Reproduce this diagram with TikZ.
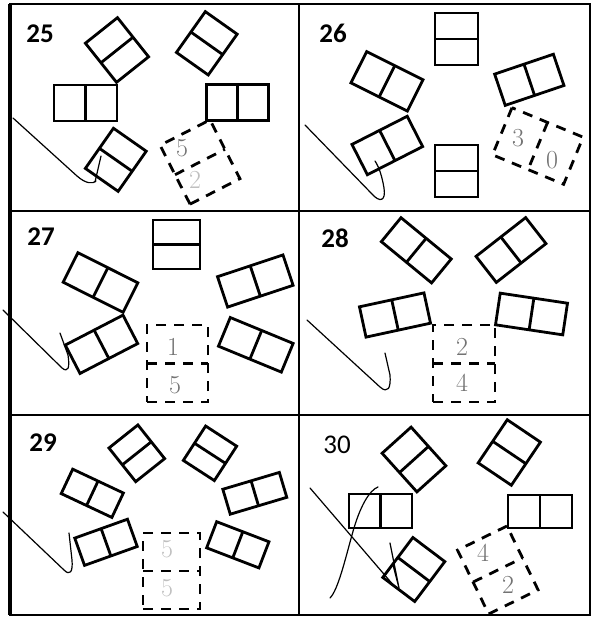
\documentclass[tikz,border=0pt]{standalone}
\usepackage{fontspec}
\newfontfamily\labelfont{Carlito}
\tikzset{
  pics/domino/.style 2 args={code={
    \draw[line width=2.8pt] (-#1/2,-#2/2) rectangle (#1/2,#2/2);
    \draw[line width=2.8pt] (0,-#2/2) -- (0,#2/2);
  }},
}
\begin{document}
\begin{tikzpicture}[x=1pt, y=-1pt,
    frame/.style={line width=1.8pt},
    dashbox/.style={dash pattern=on 10pt off 8pt},
    celllabel/.style={font=\labelfont\bfseries\fontsize{27}{27}\selectfont, inner sep=0pt},
    handnum/.style={text=black!55, font=\fontsize{26}{26}\selectfont, inner sep=0pt},
    scribble/.style={line width=1.2pt, line cap=round, line join=round}]
    \fill[white] (0,0) rectangle (595,622);
    \useasboundingbox (0,0) rectangle (595,622);

    % frame and cells
    \draw[frame] (10,4) rectangle (590,615);
    \draw[line width=4pt] (10,4) -- (10,615);
    \draw[frame] (299,4) -- (299,615);
    \draw[frame] (10,211) -- (590,211);
    \draw[frame] (10,415) -- (590,415);

    % cell labels
    \node[celllabel] (lbl25) at (40,34) {25};
    \node[celllabel] (lbl26) at (333,33) {26};
    \node[celllabel] (lbl27) at (41,237) {27};
    \node[celllabel] (lbl28) at (335,238) {28};
    \node[celllabel] (lbl29) at (43,443) {29};
    \node[celllabel, font=\labelfont\fontsize{27}{27}\selectfont] (lbl30) at (337,445) {30};

    % 25
    \pic[rotate=-51.5] at (117,50) {domino={50}{41}};
    \pic[rotate=54.7] at (206.8,43.3) {domino={50}{39}};
    \pic at (85.5,103) {domino={63}{36}};
    \pic at (237.5,102.5) {domino={62}{36}};
    \pic[rotate=55] at (115.8,159.8) {domino={49}{40}};
    \pic[rotate=117, dashbox] at (200,162) {domino={66}{56}};
    \node[handnum] (num25a) at (182,148) {5};
    \node[handnum, text=black!25] (num25b) at (195,180) {2};
    \draw[scribble] (13,118) -- (77,176) .. controls (86,184) and (93,184) .. (96,181);
    \draw[scribble] (95,182) -- (101,156);

    % 26
    \pic[rotate=90] at (456.5,39) {domino={52}{43}};
    \pic[rotate=-26.6] at (387,81.3) {domino={63}{35}};
    \pic[rotate=18.7] at (529.3,79.8) {domino={62}{33}};
    \pic[rotate=27] at (387.3,145.5) {domino={62}{34}};
    \pic[rotate=90] at (456.5,171) {domino={52}{43}};
    \pic[rotate=-22.5, dashbox] at (537.8,146) {domino={77}{51}};
    \node[handnum] (num26a) at (518,138) {3};
    \node[handnum] (num26b) at (552,160) {0};
    \draw[scribble] (305,125) -- (372,194) .. controls (380,203) and (386,201) .. (384,188)
        .. controls (382,176) and (379,167) .. (375,161);

    % 27
    \pic[rotate=90] at (176.5,244.5) {domino={49}{47}};
    \pic[rotate=-26.6] at (100.5,282.5) {domino={67}{33}};
    \pic[rotate=27.4] at (101.5,344.3) {domino={65}{32}};
    \pic[rotate=18.4] at (255.3,281) {domino={69}{32}};
    \pic[rotate=-22.4] at (255.8,344.8) {domino={68}{31}};
    \pic[rotate=90, dashbox] at (177.5,363.5) {domino={77}{61}};
    \node[handnum] (num27a) at (173,347) {1};
    \node[handnum] (num27b) at (175,385) {5};
    \draw[scribble] (3,310) -- (62,368) .. controls (68,373) and (70,368) .. (68,355) -- (60,333);

    % 28
    \pic[rotate=-39.4] at (416.3,250.3) {domino={65}{31}};
    \pic[rotate=38] at (511,250) {domino={63}{33}};
    \pic[rotate=12.2] at (395,315) {domino={66}{31}};
    \pic[rotate=-8.5] at (531.5,314) {domino={68}{32}};
    \pic[rotate=90, dashbox] at (464,363.5) {domino={77}{62}};
    \node[handnum] (num28a) at (462,347) {2};
    \node[handnum] (num28b) at (462,383) {4};
    \draw[scribble] (307,320) -- (380,387) .. controls (388,394) and (391,388) .. (390,375) -- (385,353);

    % 29
    \pic[rotate=-51.5] at (136.8,453.3) {domino={43}{37}};
    \pic[rotate=57] at (210,453.3) {domino={41}{37}};
    \pic[rotate=-25.2] at (92.3,493.3) {domino={56}{27}};
    \pic[rotate=16.6] at (254.8,493.3) {domino={59}{26}};
    \pic[rotate=19.7] at (106,542.3) {domino={56}{29}};
    \pic[rotate=-21] at (237.8,544.8) {domino={56}{28}};
    \pic[rotate=90, dashbox] at (171.5,571) {domino={76}{57}};
    \node[handnum, text=black!25] (num29a) at (167,549) {5};
    \node[handnum, text=black!25] (num29b) at (167,588) {5};
    \draw[scribble] (3,512) -- (64,570) .. controls (70,576) and (73,572) .. (72,560) -- (69,533);

    % 30
    \pic[rotate=-48] at (414,459.5) {domino={52}{39}};
    \pic[rotate=56] at (509.3,452.5) {domino={52}{40}};
    \pic at (380.5,511) {domino={63}{34}};
    \pic at (540,511.5) {domino={64}{33}};
    \pic[rotate=53] at (413.8,569.5) {domino={50}{40}};
    \pic[rotate=116, dashbox] at (497.8,570) {domino={71}{55}};
    \node[handnum] (num30a) at (483,553) {4};
    \node[handnum] (num30b) at (508,585) {2};
    \draw[scribble] (310,488) -- (395,587);
    \draw[scribble] (330,598) .. controls (338,590) and (345,560) .. (352,535)
        .. controls (360,505) and (370,490) .. (378,487);
    \draw[scribble] (390,543) -- (399,588) -- (393,565);
\end{tikzpicture}
\end{document}
